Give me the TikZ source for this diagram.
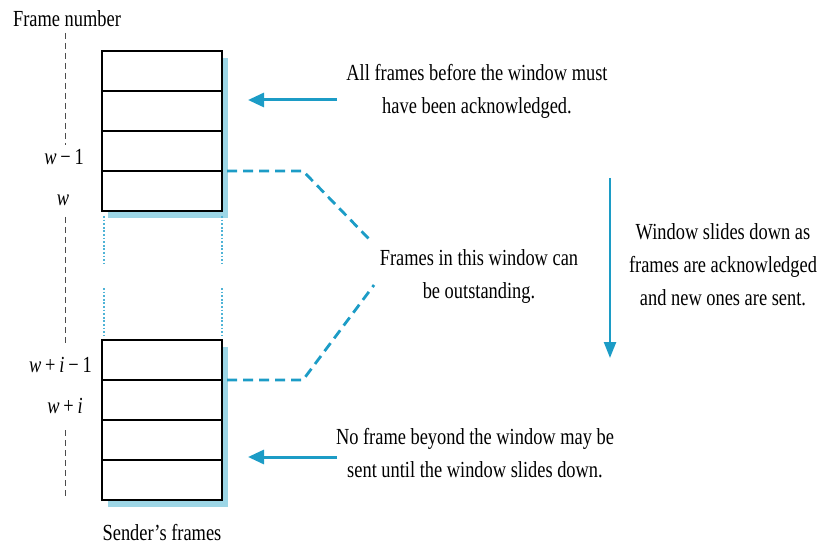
\documentclass[tikz,border=0pt]{standalone}
\usepackage{fontspec}
\setmainfont{Liberation Serif}[FakeStretch=0.8]
\usetikzlibrary{arrows.meta}
\definecolor{arrowblue}{HTML}{1C9CC6}
\definecolor{shadeblue}{HTML}{9DD6E6}
\definecolor{dotblue}{HTML}{4FB3D6}
\tikzset{
  frame/.style={draw=black, line width=1.1pt, fill=white, minimum width=120pt, minimum height=40pt, inner sep=0pt},
  shade/.style={fill=shadeblue, draw=none},
  txt/.style={font=\fontsize{23}{33}\selectfont, align=center, inner sep=0pt},
  lbl/.style={font=\fontsize{23}{33}\selectfont, inner sep=0pt},
  pointer/.style={draw=arrowblue, line width=3pt, -{Triangle[length=16pt,width=14pt]}},
  slide/.style={draw=arrowblue, line width=2.4pt, -{Triangle[length=16pt,width=12pt]}},
  bracket/.style={draw=arrowblue, line width=2.8pt, dash pattern=on 10pt off 6pt},
  gap/.style={draw=dotblue, line width=2pt, dash pattern=on 1.8pt off 1.8pt},
  axis/.style={draw=black!70, line width=0.8pt, dash pattern=on 6pt off 4pt},
}
\begin{document}
\begin{tikzpicture}[x=1pt,y=-1pt]
\useasboundingbox (0,0) rectangle (821,545);

% light-blue drop shadows behind the two stacks of frames
\fill[shade] (108,58) rectangle (228,218);
\fill[shade] (108,347) rectangle (228,507);

% upper stack of frames
\node[frame] (a1) at (162,71)  {};
\node[frame] (a2) at (162,111) {};
\node[frame] (a3) at (162,151) {};
\node[frame] (a4) at (162,191) {};

% lower stack of frames
\node[frame] (b1) at (162,360) {};
\node[frame] (b2) at (162,400) {};
\node[frame] (b3) at (162,440) {};
\node[frame] (b4) at (162,480) {};

% dotted sides of the window between the stacks
\coordinate (gl1) at (104,216); \coordinate (gl2) at (104,264);
\coordinate (gl3) at (104,288); \coordinate (gl4) at (104,335);
\coordinate (gr1) at (222,216); \coordinate (gr2) at (222,264);
\coordinate (gr3) at (222,288); \coordinate (gr4) at (222,335);
\draw[gap] (gl1) -- (gl2) (gl3) -- (gl4);
\draw[gap] (gr1) -- (gr2) (gr3) -- (gr4);

% frame-number axis
\coordinate (x1) at (65,33);  \coordinate (x2) at (65,145);
\coordinate (x3) at (65,217); \coordinate (x4) at (65,343);
\coordinate (x5) at (65,430); \coordinate (x6) at (65,498);
\draw[axis] (x1) -- (x2) (x3) -- (x4) (x5) -- (x6);

% labels
\node[lbl, anchor=base] (fn) at (67,27) {Frame number};
\node[lbl, anchor=base east] (lw1) at (84,165) {\textit{w}\,−\,1};
\node[lbl, anchor=base] (lw) at (63,206) {\textit{w}};
\node[lbl, anchor=base east] (lwi1) at (92,372) {\textit{w}\,+\,\textit{i}\,−\,1};
\node[lbl, anchor=base east] (lwi) at (83,413) {\textit{w}\,+\,\textit{i}};
\node[lbl, anchor=base] (sf) at (162,540) {Sender’s frames};

% explanatory texts
\node[txt] (tacked) at (477,91) {All frames before the window must\\have been acknowledged.};
\node[txt] (twin) at (479,277) {Frames in this window can\\be outstanding.};
\node[txt] (tbeyond) at (475,453) {No frame beyond the window may be\\sent until the window slides down.};
\node[txt] (tslide) at (723,265) {Window slides down as\\frames are acknowledged\\and new ones are sent.};

% pointer arrows
\coordinate (p1s) at (337,100); \coordinate (p1e) at (248,100);
\coordinate (p2s) at (337,457); \coordinate (p2e) at (248,457);
\draw[pointer] (p1s) -- (p1e);
\draw[pointer] (p2s) -- (p2e);

% sliding direction
\coordinate (s1) at (610,178); \coordinate (s2) at (610,358);
\draw[slide] (s1) -- (s2);

% dashed bracket marking the window
\coordinate (u0) at (227,171); \coordinate (u1) at (303,171); \coordinate (u2) at (370,240);
\coordinate (d0) at (227,380); \coordinate (d1) at (303,380); \coordinate (d2) at (374,285);
\draw[bracket] (u0) -- (u1) -- (u2);
\draw[bracket] (d0) -- (d1) -- (d2);
\end{tikzpicture}
\end{document}
